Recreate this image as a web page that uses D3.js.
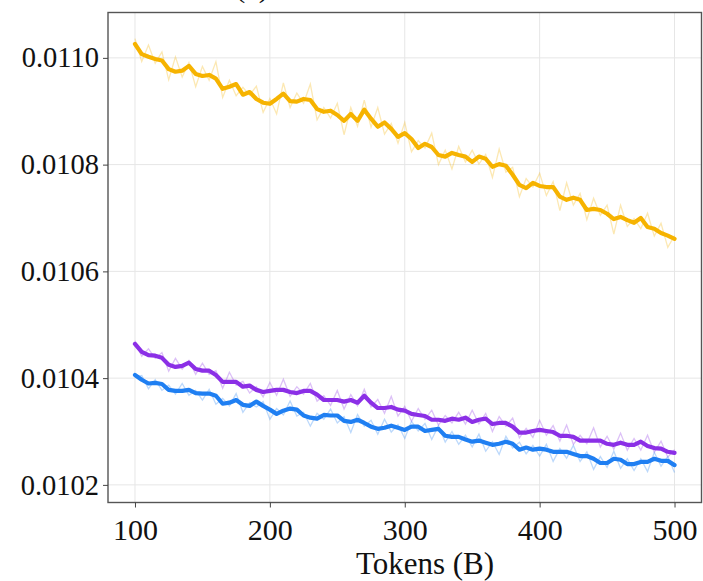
<!DOCTYPE html>
<html>
<head>
<meta charset="utf-8">
<script src="https://cdn.jsdelivr.net/npm/d3@7"></script>
<style>
html, body { margin: 0; padding: 0; background: #fff; }
svg { display: block; font-family: "Liberation Serif", "Times New Roman", serif; }
</style>
</head>
<body>
<svg id="chart" width="703" height="581"></svg>
<script>
const tokens = [100,105,110,115,120,125,130,135,140,145,150,155,160,165,170,175,180,185,190,195,
  200,205,210,215,220,225,230,235,240,245,250,255,260,265,270,275,280,285,290,295,
  300,305,310,315,320,325,330,335,340,345,350,355,360,365,370,375,380,385,390,395,
  400,405,410,415,420,425,430,435,440,445,450,455,460,465,470,475,480,485,490,495,500];

const xTicks = [100, 200, 300, 400, 500];
const yTicks = [0.0102, 0.0104, 0.0106, 0.0108, 0.0110];

// smoothed curves (thick)
const orangeSmooth = [0.011026,0.011007,0.011002,0.010998,0.010995,0.010979,0.010974,0.010976,0.010985,0.010970,
  0.010966,0.010968,0.010961,0.010942,0.010946,0.010951,0.010931,0.010936,0.010923,0.010916,
  0.010914,0.010923,0.010933,0.010919,0.010918,0.010923,0.010921,0.010904,0.010899,0.010901,
  0.010893,0.010882,0.010895,0.010882,0.010903,0.010886,0.010871,0.010879,0.010867,0.010852,
  0.010859,0.010848,0.010831,0.010839,0.010833,0.010818,0.010815,0.010822,0.010818,0.010815,
  0.010805,0.010815,0.010811,0.010796,0.010801,0.010798,0.010781,0.010762,0.010756,0.010766,
  0.010760,0.010758,0.010758,0.010740,0.010734,0.010738,0.010734,0.010715,0.010717,0.010715,
  0.010708,0.010698,0.010702,0.010696,0.010691,0.010700,0.010683,0.010680,0.010672,0.010667,0.010661];

const purpleSmooth = [0.010464,0.010449,0.010443,0.010442,0.010438,0.010425,0.010421,0.010423,0.010429,0.010417,
  0.010414,0.010414,0.010406,0.010393,0.010393,0.010393,0.010384,0.010386,0.010378,0.010374,
  0.010376,0.010378,0.010378,0.010374,0.010372,0.010376,0.010376,0.010369,0.010359,0.010359,
  0.010359,0.010356,0.010359,0.010354,0.010367,0.010354,0.010344,0.010344,0.010346,0.010341,
  0.010339,0.010333,0.010331,0.010329,0.010322,0.010322,0.010320,0.010324,0.010322,0.010326,
  0.010318,0.010322,0.010324,0.010314,0.010316,0.010316,0.010309,0.010298,0.010298,0.010301,
  0.010303,0.010301,0.010299,0.010292,0.010292,0.010290,0.010283,0.010283,0.010283,0.010283,
  0.010277,0.010275,0.010279,0.010275,0.010275,0.010281,0.010273,0.010269,0.010268,0.010262,0.010260];

const blueSmooth = [0.010406,0.010397,0.010390,0.010391,0.010389,0.010378,0.010376,0.010376,0.010378,0.010372,
  0.010371,0.010371,0.010367,0.010352,0.010354,0.010359,0.010350,0.010348,0.010356,0.010348,
  0.010341,0.010333,0.010339,0.010343,0.010341,0.010330,0.010326,0.010324,0.010331,0.010330,
  0.010330,0.010320,0.010318,0.010322,0.010316,0.010309,0.010305,0.010307,0.010311,0.010307,
  0.010303,0.010309,0.010309,0.010301,0.010303,0.010305,0.010292,0.010290,0.010290,0.010285,
  0.010281,0.010283,0.010279,0.010275,0.010277,0.010281,0.010277,0.010266,0.010270,0.010266,
  0.010268,0.010266,0.010262,0.010262,0.010262,0.010258,0.010254,0.010254,0.010249,0.010241,
  0.010241,0.010249,0.010247,0.010239,0.010239,0.010243,0.010243,0.010249,0.010245,0.010245,0.010237];

// raw noisy curves (faint)
const orangeRaw = [0.011036,0.010993,0.011024,0.010990,0.011011,0.010959,0.011002,0.010964,0.010991,0.010946,
  0.010984,0.010958,0.010993,0.010926,0.010958,0.010929,0.010945,0.010930,0.010947,0.010898,
  0.010924,0.010895,0.010953,0.010907,0.010934,0.010915,0.010951,0.010884,0.010907,0.010887,
  0.010915,0.010856,0.010907,0.010872,0.010921,0.010870,0.010907,0.010857,0.010877,0.010840,
  0.010879,0.010824,0.010845,0.010831,0.010859,0.010800,0.010827,0.010792,0.010834,0.010805,
  0.010827,0.010801,0.010819,0.010776,0.010829,0.010786,0.010795,0.010740,0.010774,0.010758,
  0.010784,0.010742,0.010768,0.010714,0.010766,0.010724,0.010746,0.010697,0.010737,0.010705,
  0.010724,0.010670,0.010724,0.010684,0.010699,0.010680,0.010709,0.010666,0.010690,0.010645,0.010667];

const purpleRaw = [0.010470,0.010441,0.010455,0.010437,0.010448,0.010413,0.010437,0.010417,0.010433,0.010407,
  0.010428,0.010407,0.010414,0.010381,0.010411,0.010387,0.010394,0.010372,0.010384,0.010365,
  0.010392,0.010368,0.010398,0.010366,0.010384,0.010370,0.010390,0.010357,0.010367,0.010349,
  0.010377,0.010342,0.010369,0.010348,0.010379,0.010346,0.010360,0.010334,0.010366,0.010329,
  0.010347,0.010319,0.010343,0.010323,0.010340,0.010312,0.010330,0.010316,0.010336,0.010314,
  0.010340,0.010314,0.010334,0.010300,0.010328,0.010310,0.010325,0.010288,0.010306,0.010289,
  0.010321,0.010293,0.010311,0.010282,0.010312,0.010276,0.010293,0.010277,0.010307,0.010271,
  0.010291,0.010267,0.010297,0.010265,0.010287,0.010265,0.010293,0.010261,0.010282,0.010252,0.010266];

const blueRaw = [0.010402,0.010405,0.010380,0.010397,0.010377,0.010387,0.010370,0.010390,0.010368,0.010377,
  0.010359,0.010379,0.010351,0.010362,0.010348,0.010371,0.010336,0.010354,0.010346,0.010356,
  0.010323,0.010343,0.010331,0.010357,0.010329,0.010336,0.010310,0.010334,0.010323,0.010342,
  0.010316,0.010328,0.010298,0.010332,0.010310,0.010321,0.010295,0.010323,0.010299,0.010313,
  0.010287,0.010319,0.010301,0.010315,0.010285,0.010311,0.010280,0.010300,0.010276,0.010293,
  0.010271,0.010295,0.010263,0.010281,0.010257,0.010291,0.010269,0.010280,0.010258,0.010274,
  0.010254,0.010276,0.010244,0.010268,0.010250,0.010274,0.010244,0.010262,0.010229,0.010253,
  0.010233,0.010263,0.010231,0.010249,0.010227,0.010249,0.010225,0.010261,0.010235,0.010253,0.010223];

const kleurOranje = '#f6b300';
const kleurPaars = '#8b2fe6';
const kleurBlauw = '#1f7ff2';

const reeksen = [
  { ruw: orangeRaw, glad: orangeSmooth, kleur: kleurOranje },
  { ruw: purpleRaw, glad: purpleSmooth, kleur: kleurPaars },
  { ruw: blueRaw, glad: blueSmooth, kleur: kleurBlauw },
];

const links = 108, boven = 12.5, rechts = 701.5, onder = 502.5;

const svg = d3.select('#chart');

const x = d3.scaleLinear().domain([80, 520]).range([links, rechts]);
const y = d3.scaleLinear().domain([0.010167, 0.011085]).range([onder, boven]);

// grid
svg.append('g').selectAll('line').data(xTicks).join('line')
  .attr('x1', d => x(d)).attr('x2', d => x(d))
  .attr('y1', boven).attr('y2', onder)
  .attr('stroke', '#e6e6e6').attr('stroke-width', 1);

svg.append('g').selectAll('line').data(yTicks).join('line')
  .attr('x1', links).attr('x2', rechts)
  .attr('y1', d => y(d)).attr('y2', d => y(d))
  .attr('stroke', '#e6e6e6').attr('stroke-width', 1);

const lijn = d3.line().x((d, i) => x(tokens[i])).y(d => y(d));

for (const r of reeksen) {
  svg.append('path')
    .attr('d', lijn(r.ruw))
    .attr('fill', 'none')
    .attr('stroke', r.kleur)
    .attr('stroke-opacity', 0.3)
    .attr('stroke-width', 1.3);
}

for (const r of reeksen) {
  svg.append('path')
    .attr('d', lijn(r.glad))
    .attr('fill', 'none')
    .attr('stroke', r.kleur)
    .attr('stroke-width', 4.2)
    .attr('stroke-linejoin', 'round')
    .attr('stroke-linecap', 'round');
}

// frame
svg.append('rect')
  .attr('x', links).attr('y', boven)
  .attr('width', rechts - links).attr('height', onder - boven)
  .attr('fill', 'none').attr('stroke', '#555').attr('stroke-width', 1.4);

const yAs = svg.append('g')
  .attr('transform', `translate(${links},0)`)
  .call(d3.axisLeft(y).tickValues(yTicks).tickFormat(d3.format('.4f')).tickSize(5).tickPadding(4));
yAs.select('.domain').remove();
yAs.selectAll('line').attr('stroke', '#444');
yAs.selectAll('text').attr('font-size', 28.5).attr('fill', '#111').attr('font-family', 'Liberation Serif');

const xAs = svg.append('g')
  .attr('transform', `translate(0,${onder})`)
  .call(d3.axisBottom(x).tickValues(xTicks).tickSize(5).tickPadding(11));
xAs.select('.domain').remove();
xAs.selectAll('line').attr('stroke', '#444');
xAs.selectAll('text').attr('font-size', 30).attr('fill', '#111').attr('font-family', 'Liberation Serif');

svg.append('text')
  .attr('x', 425).attr('y', 574)
  .attr('text-anchor', 'middle')
  .attr('font-size', 31)
  .attr('fill', '#111')
  .text('Tokens (B)');

// panel label, cut off at the top edge as in the reference
svg.append('text')
  .attr('x', 252).attr('y', -3)
  .attr('text-anchor', 'middle')
  .attr('font-size', 30)
  .attr('fill', '#111')
  .text('(a)');
</script>
</body>
</html>
